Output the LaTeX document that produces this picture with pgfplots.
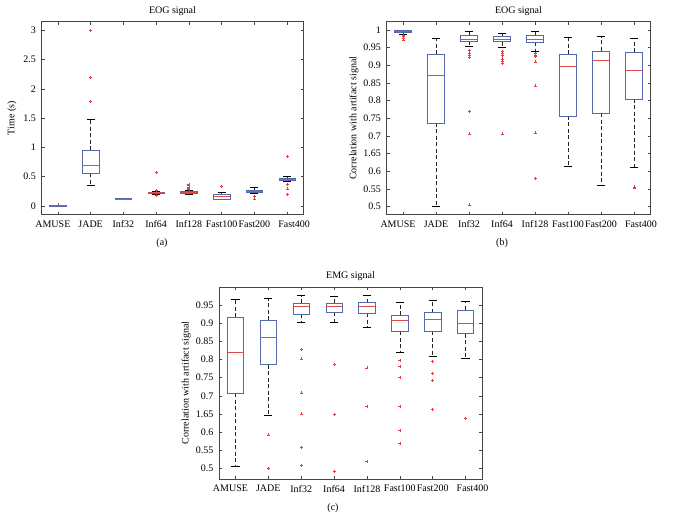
\documentclass[border=0pt]{standalone}
\usepackage{fontspec}
\setmainfont{Liberation Serif}
\usepackage{pgfplots}
\pgfplotsset{compat=1.18}
\usepgfplotslibrary{statistics}
\definecolor{boxblue}{RGB}{84,104,172}
\definecolor{medred}{RGB}{224,76,76}
\definecolor{outred}{RGB}{228,60,60}
\definecolor{axgray}{RGB}{70,70,70}

\pgfplotsset{
  mybox/.style={
    scale only axis,
    xmin=0.5, xmax=8.5,
    xtick={1,...,8},
    xticklabels={\hspace*{-10pt}AMUSE,JADE,Inf32,Inf64,Inf128,Fast100,Fast200,Fast400\hspace*{-14pt}},
    tick align=inside,
    major tick length=3pt,
    axis line style={axgray, line width=0.5pt},
    every tick/.style={axgray, line width=0.5pt},
    tick label style={font=\fontsize{10}{12}\selectfont, black},
    xticklabel style={yshift=-2.5pt},
    yticklabel style={xshift=-2pt},
    label style={font=\fontsize{10}{12}\selectfont},
    title style={font=\fontsize{10}{12}\selectfont, at={(axis description cs:0.5,1)}, anchor=base, yshift=2.4pt},
    /pgf/number format/assume math mode=true,
    clip=false,
    boxplot/draw direction=y,
    boxplot/box extend=0.5,
    boxplot/whisker extend=0.25,
    boxplot/every box/.style={boxblue, line width=0.6pt, solid},
    boxplot/every median/.style={medred, line width=0.6pt, solid},
    boxplot/every whisker/.style={black!85, line width=0.6pt, dash pattern=on 4pt off 2.5pt},
    boxplot/draw/lower whisker/.code={%
      \draw[/pgfplots/boxplot/every whisker/.try]
        (boxplot cs:\pgfplotsboxplotvalue{lower quartile}) -- (boxplot cs:\pgfplotsboxplotvalue{lower whisker});
      \draw[black, solid, line width=0.6pt]
        (boxplot whisker cs:\pgfplotsboxplotvalue{lower whisker},0) -- (boxplot whisker cs:\pgfplotsboxplotvalue{lower whisker},1);
    },
    boxplot/draw/upper whisker/.code={%
      \draw[/pgfplots/boxplot/every whisker/.try]
        (boxplot cs:\pgfplotsboxplotvalue{upper quartile}) -- (boxplot cs:\pgfplotsboxplotvalue{upper whisker});
      \draw[black, solid, line width=0.6pt]
        (boxplot whisker cs:\pgfplotsboxplotvalue{upper whisker},0) -- (boxplot whisker cs:\pgfplotsboxplotvalue{upper whisker},1);
    },
  },
  bpstyle/.style={black, solid, mark=+, mark size=1.5pt, mark options={outred, solid, line width=0.5pt}},
}

\begin{document}
\begin{tikzpicture}
\useasboundingbox (0,0) rectangle (684pt,522pt);

% ---------------- (a) ----------------
\begin{axis}[mybox,
  at={(41.5pt,307.3pt)}, anchor=south west,
  width=262pt, height=193pt,
  ymin=-0.15, ymax=3.15,
  ytick={0,0.5,1,1.5,2,2.5,3},
  yticklabels={0,0.5,1,1.5,2,2.5,3},
  title={EOG signal},
  ylabel={Time (s)},
  ylabel style={at={(axis description cs:-0.1126,0.5)}, anchor=center},
]
\addplot[bpstyle, boxplot prepared={draw position=1, lower whisker=0, lower quartile=0.001, median=0.003, upper quartile=0.005, upper whisker=0.008}] coordinates {(1,0.02)};
\addplot[bpstyle, boxplot prepared={draw position=2, lower whisker=0.35, lower quartile=0.555, median=0.69, upper quartile=0.95, upper whisker=1.48}] coordinates {(2,1.79) (2,2.2) (2,3.0)};
\addplot[bpstyle, boxplot prepared={draw position=3, lower whisker=0.11, lower quartile=0.115, median=0.12, upper quartile=0.123, upper whisker=0.13}] coordinates {};
\addplot[bpstyle, boxplot prepared={draw position=4, lower whisker=0.20, lower quartile=0.21, median=0.225, upper quartile=0.235, upper whisker=0.245}] coordinates {(4,0.58) (4,0.26) (4,0.18) (4,0.19)};
\addplot[bpstyle, boxplot prepared={draw position=5, lower whisker=0.195, lower quartile=0.21, median=0.228, upper quartile=0.245, upper whisker=0.26}] coordinates {(5,0.28) (5,0.30) (5,0.32) (5,0.345) (5,0.37)};
\addplot[bpstyle, boxplot prepared={draw position=6, lower whisker=0.11, lower quartile=0.12, median=0.16, upper quartile=0.195, upper whisker=0.225}] coordinates {(6,0.33)};
\addplot[bpstyle, boxplot prepared={draw position=7, lower whisker=0.22, lower quartile=0.225, median=0.25, upper quartile=0.275, upper whisker=0.315}] coordinates {(7,0.16) (7,0.12)};
\addplot[bpstyle, boxplot prepared={draw position=8, lower whisker=0.42, lower quartile=0.43, median=0.45, upper quartile=0.475, upper whisker=0.515}] coordinates {(8,0.85) (8,0.37) (8,0.29) (8,0.20)};
\end{axis}

% ---------------- (b) ----------------
\begin{axis}[mybox,
  at={(386.5pt,307.3pt)}, anchor=south west,
  width=264pt, height=193pt,
  ymin=0.477, ymax=1.0235,
  ytick={0.5,0.55,0.6,0.65,0.7,0.75,0.8,0.85,0.9,0.95,1},
  yticklabels={0.5,0.55,0.6,1.65,0.7,0.75,0.8,0.85,0.9,0.95,1},
  title={EOG signal},
  ylabel={Correlation with artifact signal},
  ylabel style={at={(axis description cs:-0.123,0.5)}, anchor=center},
]
\addplot[bpstyle, boxplot prepared={draw position=1, lower whisker=0.989, lower quartile=0.993, median=0.996, upper quartile=0.998, upper whisker=1.0}] coordinates {(1,0.985) (1,0.981) (1,0.976) (1,0.972)};
\addplot[bpstyle, boxplot prepared={draw position=2, lower whisker=0.502, lower quartile=0.737, median=0.871, upper quartile=0.931, upper whisker=0.976}] coordinates {};
\addplot[bpstyle, boxplot prepared={draw position=3, lower whisker=0.954, lower quartile=0.969, median=0.975, upper quartile=0.984, upper whisker=0.995}] coordinates {(3,0.943) (3,0.935) (3,0.928) (3,0.922) (3,0.769) (3,0.706) (3,0.505)};
\addplot[bpstyle, boxplot prepared={draw position=4, lower whisker=0.952, lower quartile=0.967, median=0.974, upper quartile=0.982, upper whisker=0.992}] coordinates {(4,0.94) (4,0.935) (4,0.928) (4,0.918) (4,0.911) (4,0.905) (4,0.706)};
\addplot[bpstyle, boxplot prepared={draw position=5, lower whisker=0.94, lower quartile=0.966, median=0.975, upper quartile=0.984, upper whisker=0.995}] coordinates {(5,0.934) (5,0.929) (5,0.925) (5,0.910) (5,0.842) (5,0.709) (5,0.579)};
\addplot[bpstyle, boxplot prepared={draw position=6, lower whisker=0.613, lower quartile=0.757, median=0.897, upper quartile=0.931, upper whisker=0.979}] coordinates {};
\addplot[bpstyle, boxplot prepared={draw position=7, lower whisker=0.561, lower quartile=0.764, median=0.915, upper quartile=0.941, upper whisker=0.981}] coordinates {};
\addplot[bpstyle, boxplot prepared={draw position=8, lower whisker=0.611, lower quartile=0.805, median=0.886, upper quartile=0.937, upper whisker=0.977}] coordinates {(8,0.556) (8,0.553)};
\end{axis}

% ---------------- (c) ----------------
\begin{axis}[mybox,
  at={(219pt,43pt)}, anchor=south west,
  width=263pt, height=192pt,
  ymin=0.4705, ymax=1.0,
  ytick={0.5,0.55,0.6,0.65,0.7,0.75,0.8,0.85,0.9,0.95},
  yticklabels={0.5,0.55,0.6,1.65,0.7,0.75,0.8,0.85,0.9,0.95},
  title={EMG signal},
  ylabel={Correlation with artifact signal},
  ylabel style={at={(axis description cs:-0.125,0.5)}, anchor=center},
]
\addplot[bpstyle, boxplot prepared={draw position=1, lower whisker=0.506, lower quartile=0.707, median=0.820, upper quartile=0.916, upper whisker=0.966}] coordinates {};
\addplot[bpstyle, boxplot prepared={draw position=2, lower whisker=0.645, lower quartile=0.786, median=0.862, upper quartile=0.908, upper whisker=0.970}] coordinates {(2,0.592) (2,0.500)};
\addplot[bpstyle, boxplot prepared={draw position=3, lower whisker=0.903, lower quartile=0.925, median=0.946, upper quartile=0.956, upper whisker=0.976}] coordinates {(3,0.827) (3,0.802) (3,0.708) (3,0.650) (3,0.558) (3,0.509)};
\addplot[bpstyle, boxplot prepared={draw position=4, lower whisker=0.903, lower quartile=0.930, median=0.946, upper quartile=0.956, upper whisker=0.975}] coordinates {(4,0.787) (4,0.649) (4,0.492)};
\addplot[bpstyle, boxplot prepared={draw position=5, lower whisker=0.889, lower quartile=0.927, median=0.947, upper quartile=0.957, upper whisker=0.977}] coordinates {(5,0.777) (5,0.671) (5,0.520)};
\addplot[bpstyle, boxplot prepared={draw position=6, lower whisker=0.820, lower quartile=0.878, median=0.907, upper quartile=0.922, upper whisker=0.959}] coordinates {(6,0.798) (6,0.781) (6,0.751) (6,0.671) (6,0.605) (6,0.569)};
\addplot[bpstyle, boxplot prepared={draw position=7, lower whisker=0.809, lower quartile=0.878, median=0.912, upper quartile=0.929, upper whisker=0.963}] coordinates {(7,0.794) (7,0.762) (7,0.743) (7,0.662)};
\addplot[bpstyle, boxplot prepared={draw position=8, lower whisker=0.802, lower quartile=0.871, median=0.900, upper quartile=0.937, upper whisker=0.960}] coordinates {(8,0.638)};
\end{axis}

\node[font=\fontsize{10}{12}\selectfont] at (162pt,279pt) {(a)};
\node[font=\fontsize{10}{12}\selectfont] at (502pt,279pt) {(b)};
\node[font=\fontsize{10}{12}\selectfont] at (333pt,14pt) {(c)};
\end{tikzpicture}
\end{document}
